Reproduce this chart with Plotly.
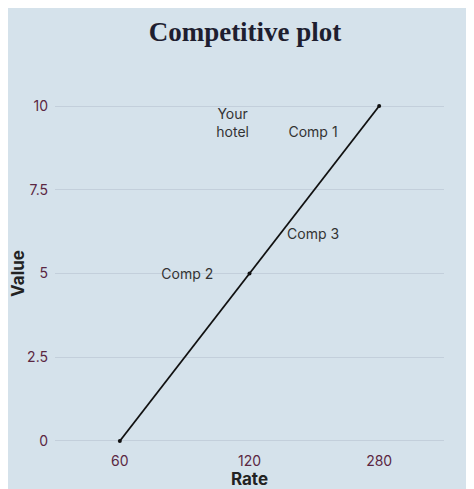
import plotly.graph_objects as go

rates = ["60", "120", "280"]
values = [0, 5, 10]

label_text = ["Your<br>hotel", "Comp 1", "Comp 3", "Comp 2"]
label_x = [0.87, 1.49, 1.49, 0.52]
label_y = [9.46, 9.19, 6.12, 4.93]

yticks = [0, 2.5, 5, 7.5, 10]

xi = list(range(len(rates)))

fig = go.Figure()
fig.add_trace(go.Scatter(
    x=xi, y=values, mode="lines+markers",
    line=dict(color="#111111", width=1.8),
    marker=dict(color="#111111", size=4),
    cliponaxis=False, showlegend=False, hoverinfo="skip",
))
fig.add_trace(go.Scatter(
    x=label_x, y=label_y, mode="text", text=label_text,
    textfont=dict(family="Inter, Roboto, sans-serif", size=14, color="#333333"),
    cliponaxis=False, showlegend=False, hoverinfo="skip",
))

bg = "#d5e2eb"
fig.update_layout(
    width=474, height=489,
    paper_bgcolor=bg, plot_bgcolor=bg,
    margin=dict(l=47, r=38, t=88, b=46),
    title=dict(text="<b>Competitive plot</b>", x=0.5, xanchor="center", y=0.952, yanchor="middle",
               font=dict(family="Liberation Serif, serif", size=27, color="#1e1e30")),
    font=dict(family="Inter, Roboto, sans-serif"),
)
fig.update_xaxes(
    range=[-0.5, 2.5], tickvals=xi, ticktext=rates, automargin=False,
    showgrid=False, zeroline=False, showline=False,
    tickfont=dict(size=14, color="#5b2742"),
    title=dict(text="<b>Rate</b>", font=dict(size=17, color="#222222"), standoff=5),
)
fig.update_yaxes(
    range=[-0.3, 10.3], tickvals=yticks, ticktext=["0", "2.5", "5", "7.5", "10"], automargin=False,
    showgrid=True, gridcolor="#c3cfdb", gridwidth=1, zeroline=False, showline=False,
    tickfont=dict(size=14, color="#5b2742"), ticklabelstandoff=6,
    title=dict(text="<b>Value</b>", font=dict(size=17, color="#222222"), standoff=4),
)
fig.write_html("out.html")
